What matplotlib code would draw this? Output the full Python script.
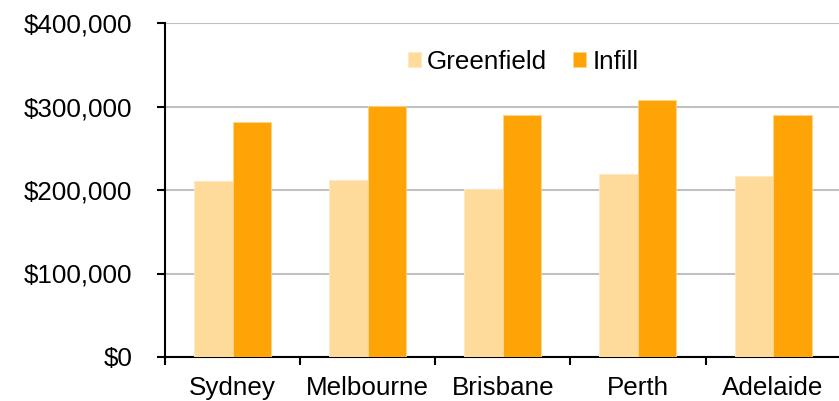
import matplotlib
matplotlib.use("Agg")
import matplotlib.pyplot as plt
import numpy as np
from matplotlib.ticker import FuncFormatter

cities = ["Sydney", "Melbourne", "Brisbane", "Perth", "Adelaide"]
greenfield = [210800, 212400, 200800, 218800, 216700]
infill = [281700, 301000, 290400, 307600, 290400]
series_names = ["Greenfield", "Infill"]
yticks = [0, 100000, 200000, 300000, 400000]

plt.rcParams['font.family'] = ['Liberation Sans', 'DejaVu Sans']

W, H = 839, 401
fig = plt.figure(figsize=(W/100, H/100), dpi=100)
ax = fig.add_axes([165/W, (H-357)/H, (W-165)/W + 0.002, (357-23)/H])

x = np.arange(len(cities))
bw = 0.285
ax.bar(x - bw/2, greenfield, bw, color='#FFDB9B', edgecolor='#FFE9C4', linewidth=0.6,
       label=series_names[0], zorder=3)
ax.bar(x + bw/2, infill, bw, color='#FFA406', edgecolor='#FFD48A', linewidth=0.6,
       label=series_names[1], zorder=3)

ax.set_xlim(-0.5, len(cities) - 0.5)
ax.set_ylim(0, 400000)
ax.set_yticks(yticks)
ax.yaxis.set_major_formatter(FuncFormatter(lambda v, p: "${:,.0f}".format(v)))
ax.yaxis.grid(True, color='#C0C0C0', linewidth=1.5, zorder=0)
ax.set_axisbelow(True)

ax.set_xticks(x)
ax.set_xticklabels(cities)
ax.set_xticks(np.arange(len(cities) + 1) - 0.5, minor=True)
ax.tick_params(axis='x', which='major', length=0, labelsize=18.7, pad=14)
ax.tick_params(axis='x', which='minor', length=5.5, width=1.5, direction='out')
ax.tick_params(axis='y', length=5.5, width=1.5, labelsize=18.7, pad=18)

for s in ['top', 'right']:
    ax.spines[s].set_visible(False)
for s in ['left', 'bottom']:
    ax.spines[s].set_linewidth(1.5)
    ax.spines[s].set_color('black')

leg = ax.legend(loc='upper center', bbox_to_anchor=(0.53, 0.99), ncol=2, frameon=False,
                fontsize=18.7, handlelength=0.5, handleheight=0.5, handletextpad=0.25,
                columnspacing=1.0)

fig.savefig("out.png", dpi=100)
